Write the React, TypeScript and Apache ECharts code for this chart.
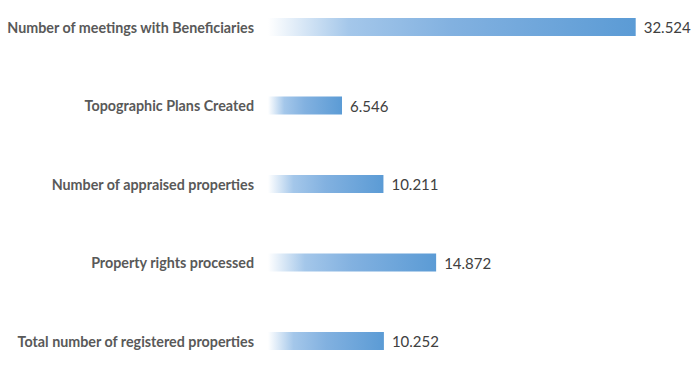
import React, { useEffect, useRef } from "react";
import * as echarts from "echarts";

const categories = [
  "Number of meetings with Beneficiaries",
  "Topographic Plans Created",
  "Number of appraised properties",
  "Property rights processed",
  "Total number of registered properties",
];
const values = [32524, 6546, 10211, 14872, 10252];
const valueLabels = ["32.524", "6.546", "10.211", "14.872", "10.252"];

export default function App() {
  const ref = useRef<HTMLDivElement>(null);
  useEffect(() => {
    if (!ref.current) return;
    const chart = echarts.init(ref.current, null, { renderer: "svg" });
    const grad = new echarts.graphic.LinearGradient(0, 0, 1, 0, [
      { offset: 0, color: "#ffffff" },
      { offset: 0.22, color: "#a4c7ea" },
      { offset: 0.5, color: "#82b1e0" },
      { offset: 1, color: "#5b9bd5" },
    ]);
    chart.setOption({
      animation: false,
      grid: { left: 268, right: 23, top: 27, bottom: 31 },
      xAxis: {
        type: "value",
        min: 0,
        max: 36000,
        show: false,
      },
      yAxis: {
        type: "category",
        data: categories,
        inverse: true,
        boundaryGap: false,
        axisLine: { show: false },
        axisTick: { show: false },
        splitLine: { show: false },
        axisLabel: {
          margin: 14,
          fontFamily: "Lato",
          fontWeight: "bold",
          fontSize: 14.3,
          color: "#595959",
        },
      },
      series: [
        {
          type: "bar",
          data: values,
          barWidth: 18,
          itemStyle: { color: grad },
          label: {
            show: true,
            position: "right",
            distance: 8,
            fontFamily: "Lato",
            fontSize: 15,
            color: "#404040",
            formatter: (p: any) => valueLabels[p.dataIndex],
          },
        },
      ],
    });
    return () => chart.dispose();
  }, []);
  return (
    <div
      ref={ref}
      style={{ position: "fixed", left: 0, top: 0, width: 698, height: 372, background: "#fff" }}
    />
  );
}
